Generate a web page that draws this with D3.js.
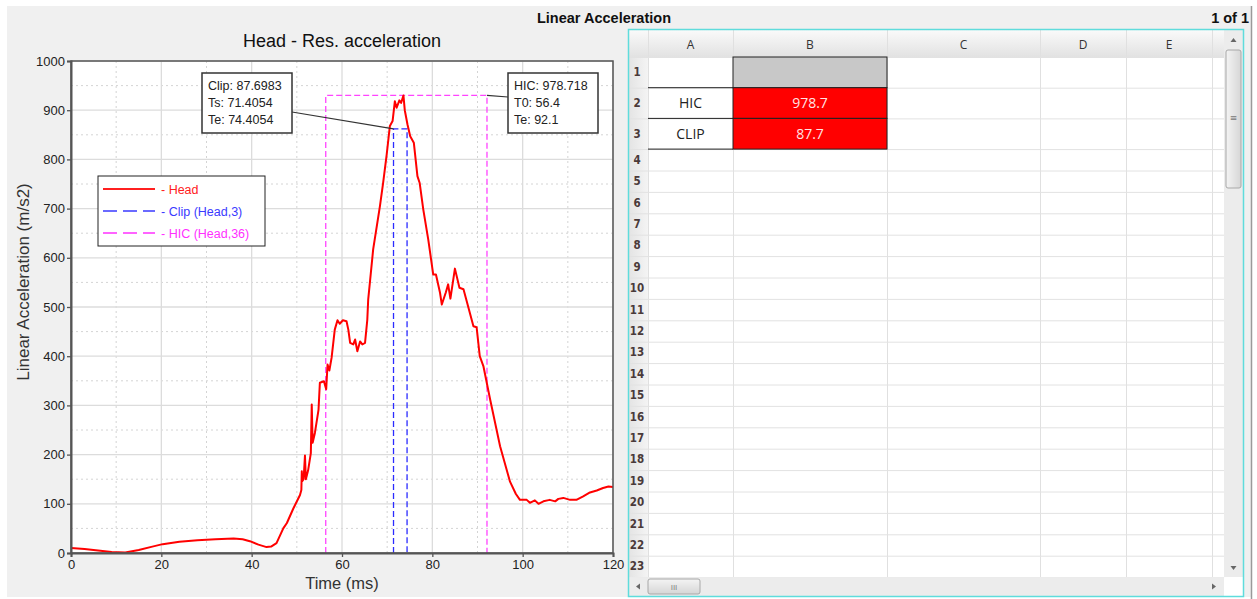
<!DOCTYPE html>
<html>
<head>
<meta charset="utf-8">
<script src="https://cdn.jsdelivr.net/npm/d3@7"></script>
<style>
  body { margin: 0; background: #fff; }
  text { font-family: "Liberation Sans", Arial, sans-serif; }
  .sheet text { font-family: "Open Sans", "DejaVu Sans", sans-serif; }
</style>
</head>
<body>
<div class="viz"></div>
<script>
// head resultant acceleration (time in ms, value in m/s2)
var timeMs = [0, 3, 6, 9, 12, 15, 18, 20.3, 24, 28, 32, 36, 38, 39.6, 41.5, 43.3, 44.3, 45.5, 47, 47.8,
  49.2, 50.7, 51.0, 51.1, 51.2, 51.5, 51.8, 52.0, 52.5, 53.1, 53.3, 53.5, 54.0, 54.8, 55.1, 56.0, 56.5,
  56.8, 57.2, 57.7, 58.4, 59.0, 59.5, 60.2, 61.0, 61.4, 61.8, 62.5, 62.9, 63.4, 64.0, 64.5, 65.1, 65.6,
  65.8, 66.9, 68.4, 69.1, 69.9, 70.6, 71.2, 71.7, 72.1, 72.7, 73.1, 73.6, 73.9, 74.5, 75.1, 75.9, 76.7,
  77.2, 78.0, 79.1, 80.2, 80.8, 81.7, 82.1, 83.0, 83.5, 84.0, 85.0, 86.0, 86.9, 87.6, 89.1, 89.8, 90.5,
  91.3, 92.8, 95.0, 97.2, 98.5, 99.4, 100.9, 101.6, 102.7, 103.5, 104.6, 106.0, 107.2, 107.9, 109.0,
  110.5, 111.9, 113.4, 114.9, 116.4, 117.8, 119.0, 120];
var headAcc = [10, 8, 5, 2, 1, 6, 13, 18, 23, 26, 28, 29.5, 28, 24, 17, 12, 13, 20, 50, 61,
  90, 118, 128, 166, 146, 150, 198, 150, 168, 203, 302, 224, 244, 291, 346, 349, 333,
  383, 371, 397, 454, 473, 466, 473, 471, 454, 427, 424, 434, 410, 430, 424, 427, 474,
  515, 617, 705, 752, 810, 868, 878, 918, 905, 920, 915, 930, 900, 871, 847, 834, 766,
  752, 698, 637, 566, 566, 529, 505, 530, 546, 517, 578, 539, 536, 512, 461, 459, 400,
  380, 312, 217, 145, 120, 108, 108, 102, 107, 100, 105, 108, 105, 110, 112,
  108, 108, 115, 123, 127, 132, 135, 134];

// HIC (36 ms) and clip (3 ms) results
var hicWindow = [56.4, 92.1];
var hicValue = 978.718;
var hicLevel = 930;
var clipWindow = [71.4054, 74.4054];
var clipValue = 87.6983;
var clipLevel = 862;

// axis ticks
var xTicks = [0, 20, 40, 60, 80, 100, 120];
var xMinor = [10, 30, 50, 70, 90, 110];
var yTicks = [0, 100, 200, 300, 400, 500, 600, 700, 800, 900, 1000];
var yMinor = [50, 150, 250, 350, 450, 550, 650, 750, 850, 950];

var legendNames = ["- Head", "- Clip (Head,3)", "- HIC (Head,36)"];

// spreadsheet content
var colLabels = ["A", "B", "C", "D", "E", ""];
var rowLabels = d3.range(1, 24).map(String);
var sheetNames = ["HIC", "CLIP"];
var sheetValues = [hicValue, clipValue];

var W = 1257, H = 599;
var plot = { left: 71, right: 613, top: 61, bottom: 553 };

var svg = d3.select(".viz").append("svg")
  .attr("width", W).attr("height", H);

var defs = svg.append("defs");
var g1 = defs.append("linearGradient").attr("id", "hdr").attr("x1", 0).attr("y1", 0).attr("x2", 0).attr("y2", 1);
g1.append("stop").attr("offset", "0%").attr("stop-color", "#fafafa");
g1.append("stop").attr("offset", "100%").attr("stop-color", "#e2e2e2");
var g2 = defs.append("linearGradient").attr("id", "rowhdr").attr("x1", 0).attr("y1", 0).attr("x2", 1).attr("y2", 0);
g2.append("stop").attr("offset", "0%").attr("stop-color", "#e4e4e4");
g2.append("stop").attr("offset", "100%").attr("stop-color", "#f4f4f4");
var g3 = defs.append("linearGradient").attr("id", "thumb").attr("x1", 0).attr("y1", 0).attr("x2", 1).attr("y2", 0);
g3.append("stop").attr("offset", "0%").attr("stop-color", "#f4f4f4");
g3.append("stop").attr("offset", "100%").attr("stop-color", "#d6d6d6");
var g4 = defs.append("linearGradient").attr("id", "hthumb").attr("x1", 0).attr("y1", 0).attr("x2", 0).attr("y2", 1);
g4.append("stop").attr("offset", "0%").attr("stop-color", "#f4f4f4");
g4.append("stop").attr("offset", "100%").attr("stop-color", "#d6d6d6");

// window background
svg.append("rect").attr("x", 7).attr("y", 6).attr("width", 1244).attr("height", 591).attr("fill", "#f0f0f0");
svg.append("line").attr("x1", 1251.5).attr("x2", 1251.5).attr("y1", 6).attr("y2", 599)
  .attr("stroke", "#9a9a9a").attr("stroke-width", 1.5);

svg.append("text").attr("x", 604).attr("y", 23).attr("text-anchor", "middle")
  .style("font-size", "14.5px").style("font-weight", "bold").attr("fill", "#111")
  .text("Linear Acceleration");
svg.append("text").attr("x", 1249).attr("y", 23).attr("text-anchor", "end")
  .style("font-size", "14.5px").style("font-weight", "bold").attr("fill", "#111")
  .text("1 of 1");

// ---------------- chart ----------------
var xScale = d3.scaleLinear().domain([0, 120]).range([plot.left, plot.right]);
var yScale = d3.scaleLinear().domain([0, 1000]).range([plot.bottom, plot.top]);

var chart = svg.append("g").attr("class", "chart");

chart.append("rect")
  .attr("x", plot.left).attr("y", plot.top)
  .attr("width", plot.right - plot.left).attr("height", plot.bottom - plot.top)
  .attr("fill", "#fff");

// grid
chart.selectAll(".xminor").data(xMinor).enter().append("line")
  .attr("x1", d => xScale(d)).attr("x2", d => xScale(d))
  .attr("y1", plot.top).attr("y2", plot.bottom)
  .attr("stroke", "#d4d4d4").attr("stroke-dasharray", "2,3");
chart.selectAll(".yminor").data(yMinor).enter().append("line")
  .attr("y1", d => yScale(d)).attr("y2", d => yScale(d))
  .attr("x1", plot.left).attr("x2", plot.right)
  .attr("stroke", "#d4d4d4").attr("stroke-dasharray", "2,3");
chart.selectAll(".xmajor").data(xTicks).enter().append("line")
  .attr("x1", d => xScale(d)).attr("x2", d => xScale(d))
  .attr("y1", plot.top).attr("y2", plot.bottom)
  .attr("stroke", "#dcdcdc").attr("stroke-width", 1.3);
chart.selectAll(".ymajor").data(yTicks).enter().append("line")
  .attr("y1", d => yScale(d)).attr("y2", d => yScale(d))
  .attr("x1", plot.left).attr("x2", plot.right)
  .attr("stroke", "#dcdcdc").attr("stroke-width", 1.3);

// HIC window and clip window
var hicPts = [[hicWindow[0], 0], [hicWindow[0], hicLevel], [hicWindow[1], hicLevel], [hicWindow[1], 0]];
var clipPts = [[clipWindow[0], 0], [clipWindow[0], clipLevel], [clipWindow[1], clipLevel], [clipWindow[1], 0]];
var stepLine = d3.line().x(d => xScale(d[0])).y(d => yScale(d[1]));

chart.append("path").attr("d", stepLine(hicPts))
  .attr("fill", "none").attr("stroke", "#ff44ff").attr("stroke-width", 1.3)
  .attr("stroke-dasharray", "6,3");
chart.append("path").attr("d", stepLine(clipPts))
  .attr("fill", "none").attr("stroke", "#2b2bff").attr("stroke-width", 1.3)
  .attr("stroke-dasharray", "6,3");

// head curve
var headData = timeMs.map((t, i) => ({ t: t, v: headAcc[i] }));
chart.append("path").datum(headData)
  .attr("d", d3.line().x(d => xScale(d.t)).y(d => yScale(d.v)))
  .attr("fill", "none").attr("stroke", "#ff0000").attr("stroke-width", 2)
  .attr("stroke-linejoin", "round");

// frame
chart.append("rect")
  .attr("x", plot.left).attr("y", plot.top)
  .attr("width", plot.right - plot.left).attr("height", plot.bottom - plot.top)
  .attr("fill", "none").attr("stroke", "#555").attr("stroke-width", 1.5);

// axes
var xAxis = d3.axisBottom(xScale).tickValues(xTicks).tickSize(4).tickPadding(3);
var yAxis = d3.axisLeft(yScale).tickValues(yTicks).tickFormat(d3.format("d")).tickSize(4).tickPadding(2);
var gX = chart.append("g").attr("transform", "translate(0," + plot.bottom + ")").call(xAxis);
var gY = chart.append("g").attr("transform", "translate(" + plot.left + ",0)").call(yAxis);
[gX, gY].forEach(function(a) {
  a.select(".domain").attr("stroke", "#555").attr("stroke-width", 2);
  a.selectAll(".tick line").attr("stroke", "#555").attr("stroke-width", 1.3);
  a.selectAll(".tick text").attr("fill", "#222")
    .style("font-family", "'Liberation Sans Narrow', 'Liberation Sans', Arial, sans-serif")
    .style("font-size", "13px");
});

chart.append("text").attr("x", 342).attr("y", 47).attr("text-anchor", "middle")
  .style("font-size", "18px").attr("fill", "#111").text("Head - Res. acceleration");
chart.append("text").attr("x", 342).attr("y", 589).attr("text-anchor", "middle")
  .style("font-size", "16.5px").attr("fill", "#333").text("Time (ms)");
chart.append("text").attr("transform", "translate(29,282) rotate(-90)").attr("text-anchor", "middle")
  .style("font-size", "17px").attr("fill", "#333").text("Linear Acceleration (m/s2)");

// legend
var legend = chart.append("g").attr("transform", "translate(98,176)");
legend.append("rect").attr("width", 167).attr("height", 70)
  .attr("fill", "#fff").attr("stroke", "#222").attr("stroke-width", 1);
var legendColors = ["#ff2020", "#3a3aff", "#ff30ff"];
var legendDash = [null, "14,6", "14,6"];
var items = legend.selectAll(".item").data(legendNames).enter().append("g")
  .attr("transform", (d, i) => "translate(0," + (13 + i * 22) + ")");
items.append("line").attr("x1", 5).attr("x2", 57).attr("y1", 0).attr("y2", 0)
  .attr("stroke", (d, i) => legendColors[i]).attr("stroke-width", (d, i) => i ? 1.5 : 2)
  .attr("stroke-dasharray", (d, i) => legendDash[i]);
items.append("text").attr("x", 63).attr("y", 4.5)
  .style("font-size", "12.5px").attr("fill", (d, i) => legendColors[i]).text(d => d);

// annotation boxes
function noteBox(x, y, lines) {
  var b = chart.append("g").attr("transform", "translate(" + x + "," + y + ")");
  b.append("rect").attr("width", 90).attr("height", 60)
    .attr("fill", "#fff").attr("stroke", "#333").attr("stroke-width", 1.5);
  b.selectAll("text").data(lines).enter().append("text")
    .attr("x", 6).attr("y", (d, i) => 17 + i * 17)
    .style("font-size", "12.5px").attr("fill", "#222").text(d => d);
}
chart.append("line").attr("x1", 292).attr("y1", 112)
  .attr("x2", xScale(clipWindow[0])).attr("y2", yScale(clipLevel))
  .attr("stroke", "#333").attr("stroke-width", 1.2);
chart.append("line").attr("x1", 508).attr("y1", 97)
  .attr("x2", xScale(hicWindow[1])).attr("y2", yScale(hicLevel))
  .attr("stroke", "#333").attr("stroke-width", 1.2);
noteBox(202, 73, ["Clip: " + clipValue, "Ts: " + clipWindow[0], "Te: " + clipWindow[1]]);
noteBox(508, 73, ["HIC: " + hicValue, "T0: " + hicWindow[0], "Te: " + hicWindow[1]]);

// ---------------- spreadsheet ----------------
var sheet = svg.append("g").attr("class", "sheet");
var sx0 = 629, headerTop = 30, headerBottom = 57;
var rowHdrW = 19;
var colWidths = [85, 154, 153, 86, 86, 12];
var colEdges = [sx0 + rowHdrW];
colWidths.forEach(w => colEdges.push(colEdges[colEdges.length - 1] + w));
var rowHeights = rowLabels.map((d, i) => i < 3 ? 30.7 : 21.4);
var rowEdges = [headerBottom];
rowHeights.forEach(h => rowEdges.push(rowEdges[rowEdges.length - 1] + h));
var gridRight = colEdges[colEdges.length - 1];
var gridBottom = rowEdges[rowEdges.length - 1];

sheet.append("rect").attr("x", sx0).attr("y", headerTop)
  .attr("width", 1243 - sx0).attr("height", 596 - headerTop).attr("fill", "#fff");

// column header
sheet.append("rect").attr("x", sx0).attr("y", headerTop)
  .attr("width", gridRight - sx0).attr("height", headerBottom - headerTop).attr("fill", "url(#hdr)");
sheet.selectAll(".colsep").data(colEdges).enter().append("line")
  .attr("x1", d => d + 0.5).attr("x2", d => d + 0.5)
  .attr("y1", headerTop).attr("y2", gridBottom)
  .attr("stroke", "#e0e0e0");
sheet.selectAll(".collab").data(colLabels).enter().append("text")
  .attr("x", (d, i) => colEdges[i] + colWidths[i] / 2).attr("y", 49)
  .attr("text-anchor", "middle").style("font-size", "12px").attr("fill", "#333").text(d => d);

// row header
sheet.append("rect").attr("x", sx0).attr("y", headerBottom)
  .attr("width", rowHdrW).attr("height", gridBottom - headerBottom).attr("fill", "url(#rowhdr)");
sheet.selectAll(".rowsep").data(rowEdges).enter().append("line")
  .attr("x1", sx0).attr("x2", gridRight)
  .attr("y1", d => d + 0.5).attr("y2", d => d + 0.5)
  .attr("stroke", "#e2e2e2");
sheet.selectAll(".rowlab").data(rowLabels).enter().append("text")
  .attr("x", sx0 + 8).attr("y", (d, i) => rowEdges[i] + rowHeights[i] / 2 + 4)
  .attr("text-anchor", "middle").style("font-size", "11.5px").style("font-weight", "bold")
  .style("font-family", "'DejaVu Sans Condensed', sans-serif")
  .attr("fill", "#4a3a3a").text(d => d);

// filled cells
var bx = colEdges[1], bw = colWidths[1], ax = colEdges[0], aw = colWidths[0];
sheet.append("rect").attr("x", bx).attr("y", rowEdges[0])
  .attr("width", bw).attr("height", rowHeights[0]).attr("fill", "#c8c8c8")
  .attr("stroke", "#222").attr("stroke-width", 1);
sheet.selectAll(".val").data(sheetValues).enter().append("rect")
  .attr("x", bx).attr("y", (d, i) => rowEdges[i + 1])
  .attr("width", bw).attr("height", (d, i) => rowHeights[i + 1])
  .attr("fill", "#ff0000").attr("stroke", "#222").attr("stroke-width", 1);
sheet.selectAll(".vtxt").data(sheetValues).enter().append("text")
  .attr("x", bx + bw / 2).attr("y", (d, i) => rowEdges[i + 1] + rowHeights[i + 1] / 2 + 5)
  .attr("text-anchor", "middle").style("font-size", "14px").attr("fill", "#ffe4e4")
  .text(d => d.toFixed(1));
sheet.selectAll(".nline").data([1, 2, 3]).enter().append("line")
  .attr("x1", ax).attr("x2", bx).attr("y1", d => rowEdges[d]).attr("y2", d => rowEdges[d])
  .attr("stroke", "#222").attr("stroke-width", 1);
sheet.selectAll(".ntxt").data(sheetNames).enter().append("text")
  .attr("x", ax + aw / 2).attr("y", (d, i) => rowEdges[i + 1] + rowHeights[i + 1] / 2 + 5)
  .attr("text-anchor", "middle").style("font-size", "14px").attr("fill", "#222").text(d => d);

// vertical scrollbar
var vs = sheet.append("g");
vs.append("rect").attr("x", 1224).attr("y", headerTop).attr("width", 19).attr("height", 547).attr("fill", "#ececec");
vs.append("rect").attr("x", 1226).attr("y", 50).attr("width", 15).attr("height", 138)
  .attr("rx", 2).attr("fill", "url(#thumb)").attr("stroke", "#a8a8a8");
vs.append("text").attr("x", 1233.5).attr("y", 121).attr("text-anchor", "middle")
  .style("font-size", "9px").attr("fill", "#777").text("≡");
vs.append("path").attr("d", "M1230.5,42 L1233.5,38 L1236.5,42 Z").attr("fill", "#666");
vs.append("path").attr("d", "M1230.5,566 L1233.5,570 L1236.5,566 Z").attr("fill", "#666");

// horizontal scrollbar
var hs = sheet.append("g");
hs.append("rect").attr("x", sx0).attr("y", gridBottom).attr("width", 1224 - sx0).attr("height", 596 - gridBottom).attr("fill", "#ececec");
hs.append("rect").attr("x", 648).attr("y", 579).attr("width", 52).attr("height", 15)
  .attr("rx", 2).attr("fill", "url(#hthumb)").attr("stroke", "#a8a8a8");
hs.append("text").attr("x", 674).attr("y", 590).attr("text-anchor", "middle")
  .style("font-size", "8px").attr("fill", "#777").text("III");
hs.append("path").attr("d", "M640,583.5 L636,586.5 L640,589.5 Z").attr("fill", "#666");
hs.append("path").attr("d", "M1212,583.5 L1216,586.5 L1212,589.5 Z").attr("fill", "#666");

// sheet border
sheet.append("rect").attr("x", 628.5).attr("y", 29.5).attr("width", 615).attr("height", 567)
  .attr("fill", "none").attr("stroke", "#5fdcdc").attr("stroke-width", 1.5);
</script>
</body>
</html>
